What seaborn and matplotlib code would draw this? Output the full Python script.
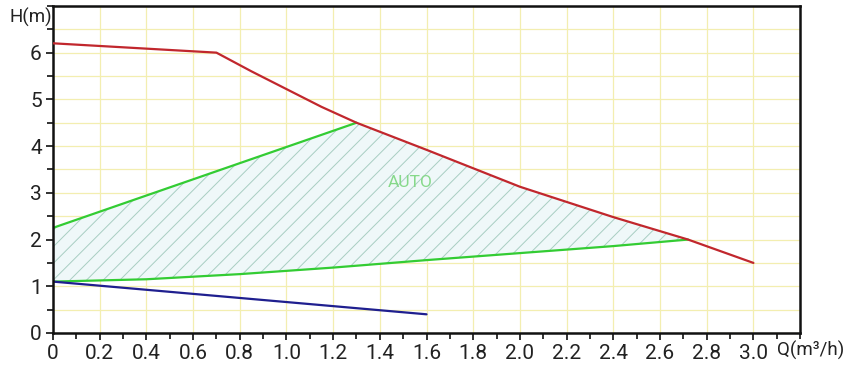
import numpy as np
import pandas as pd
import matplotlib
matplotlib.use('Agg')
import matplotlib.pyplot as plt
from matplotlib.ticker import MultipleLocator
import seaborn as sns

# max speed curve (red)
red_q = [0, 0.7, 0.85, 1.0, 1.15, 1.3, 1.6, 2.0, 2.4, 2.72, 3.0]
red_h = [6.2, 6.0, 5.6, 5.22, 4.84, 4.5, 3.92, 3.13, 2.48, 2.0, 1.5]

# AUTO range boundaries (green)
upper_q = [0, 1.3]
upper_h = [2.25, 4.5]
lower_q = [0, 0.4, 0.8, 1.2, 1.6, 2.0, 2.4, 2.72]
lower_h = [1.1, 1.15, 1.26, 1.4, 1.56, 1.71, 1.86, 2.0]

# min speed curve (blue)
blue_q = [0, 1.6]
blue_h = [1.1, 0.4]

x_ticks = [0, 0.2, 0.4, 0.6, 0.8, 1.0, 1.2, 1.4, 1.6, 1.8, 2.0, 2.2, 2.4, 2.6, 2.8, 3.0]
x_labels = ['0', '0.2', '0.4', '0.6', '0.8', '1.0', '1.2', '1.4', '1.6', '1.8',
            '2.0', '2.2', '2.4', '2.6', '2.8', '3.0']
y_ticks = [0, 1, 2, 3, 4, 5, 6]

sns.set_style('white')
plt.rcParams['font.family'] = ['Roboto', 'DejaVu Sans']
plt.rcParams['hatch.linewidth'] = 0.7

fig = plt.figure(figsize=(8.49, 3.70), dpi=100)
ax = fig.add_axes([0.0624, 0.1, 0.88, 0.884])

# hatched AUTO area: upper green, then red down to the lower green end, back along lower green
red_df = pd.DataFrame({'Q': red_q, 'H': red_h})
red_part = red_df[(red_df.Q > upper_q[-1]) & (red_df.Q <= lower_q[-1])]
poly_q = list(upper_q) + list(red_part.Q) + lower_q[::-1]
poly_h = list(upper_h) + list(red_part.H) + lower_h[::-1]
ax.fill(poly_q, poly_h, facecolor='#eff8f9', edgecolor='#a8cec2', hatch='//', linewidth=0, zorder=1)

lw = 1.6
sns.lineplot(data=red_df, x='Q', y='H', color='#c1272d', linewidth=lw, ax=ax, zorder=3)
sns.lineplot(x=upper_q, y=upper_h, color='#33cc33', linewidth=lw, ax=ax, zorder=2)
sns.lineplot(x=lower_q, y=lower_h, color='#33cc33', linewidth=lw, ax=ax, zorder=2)
sns.lineplot(x=blue_q, y=blue_h, color='#1f1f8f', linewidth=lw, ax=ax, zorder=2)

ax.text(1.53, 3.23, 'AUTO', color='#86d98a', fontsize=12.5, ha='center', va='center')

ax.set_xlim(0, 3.2)
ax.set_ylim(0, 7)
ax.set_xticks(x_ticks)
ax.set_xticklabels(x_labels)
ax.set_yticks(y_ticks)
ax.xaxis.set_minor_locator(MultipleLocator(0.1))
ax.yaxis.set_minor_locator(MultipleLocator(0.5))
ax.grid(True, which='major', axis='x', color='#f3eeb0', linewidth=0.9, zorder=0)
ax.grid(True, which='both', axis='y', color='#f3eeb0', linewidth=0.9, zorder=0)
ax.set_axisbelow(True)
ax.tick_params(which='major', direction='out', length=5, width=1.3, labelsize=15,
               colors='#222222', bottom=True, left=True, pad=3)
ax.tick_params(which='minor', direction='out', length=4, width=1.3, colors='#222222',
               bottom=True, left=True)
for s in ax.spines.values():
    s.set_color('#111111')
    s.set_linewidth(1.8)
ax.set_xlabel('')
ax.set_ylabel('')

fig.text(0.036, 0.954, 'H(m)', fontsize=13.5, color='#222222', ha='center', va='center')
fig.text(0.955, 0.054, 'Q(m³/h)', fontsize=13.5, color='#222222', ha='center', va='center')

fig.savefig('out.png', dpi=100)
